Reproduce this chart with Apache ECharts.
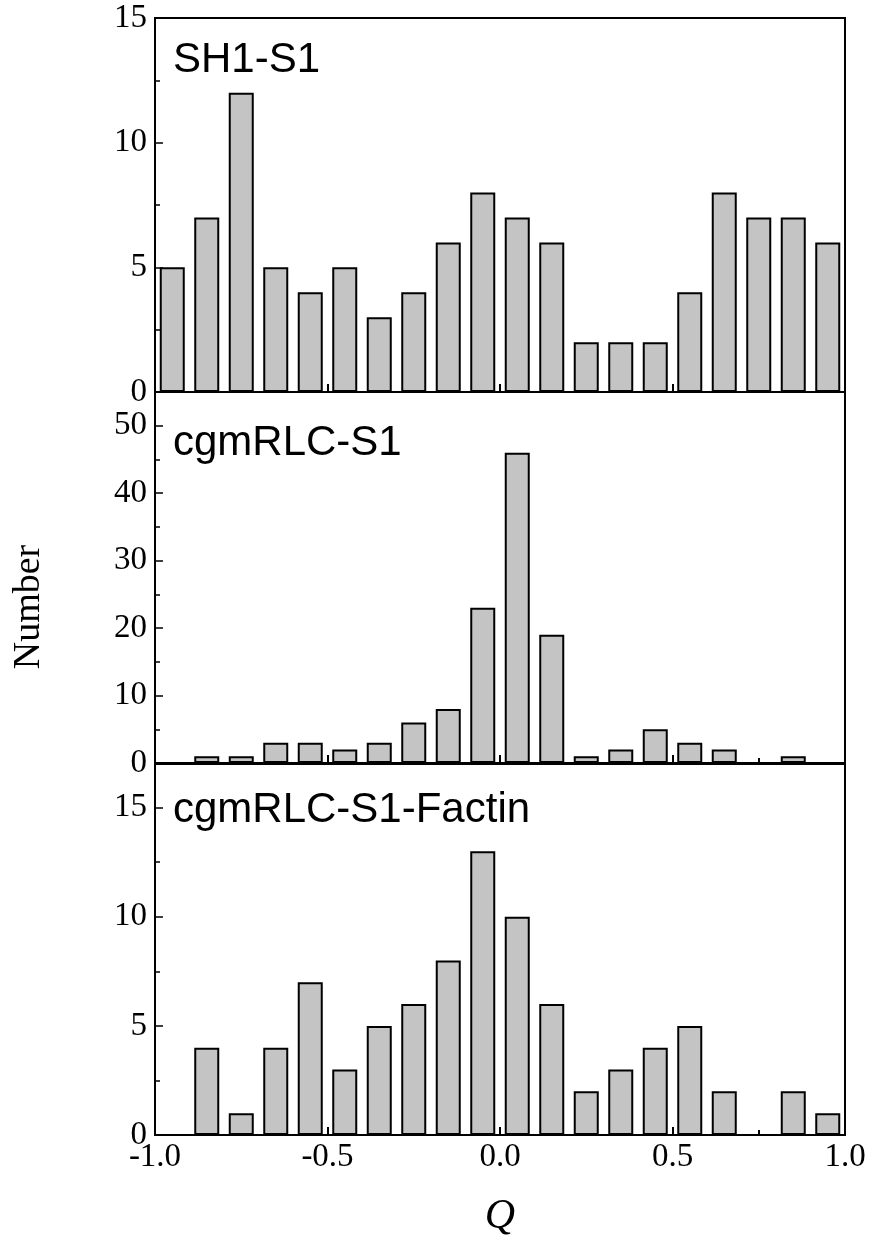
<!DOCTYPE html>
<html>
<head>
<meta charset="utf-8">
<script src="https://cdn.jsdelivr.net/npm/echarts@6/dist/echarts.min.js"></script>
<style>
  html, body { margin: 0; padding: 0; background: #fff; }
  #chart { width: 872px; height: 1241px; }
</style>
</head>
<body>
<div id="chart"></div>
<script>
// bin centres of Q (width 0.1)
const binCenters = [-0.95, -0.85, -0.75, -0.65, -0.55, -0.45, -0.35, -0.25, -0.15, -0.05,
                    0.05, 0.15, 0.25, 0.35, 0.45, 0.55, 0.65, 0.75, 0.85, 0.95];
const panelNames = ["SH1-S1", "cgmRLC-S1", "cgmRLC-S1-Factin"];
const sh1S1 = [5, 7, 12, 5, 4, 5, 3, 4, 6, 8, 7, 6, 2, 2, 2, 4, 8, 7, 7, 6];
const cgmRLCS1 = [0, 1, 1, 3, 3, 2, 3, 6, 8, 23, 46, 19, 1, 2, 5, 3, 2, 0, 1, 0];
const cgmRLCS1Factin = [0, 4, 1, 4, 7, 3, 5, 6, 8, 13, 10, 6, 2, 3, 4, 5, 2, 0, 2, 1];
const yMax = [15, 55, 17];
const yInterval = [5, 10, 5];

const font = "'Liberation Serif', 'Times New Roman', serif";
const panels = [sh1S1, cgmRLCS1, cgmRLCS1Factin];
const grids = [
  { left: 155, right: 27, top: 18, height: 374 },
  { left: 155, right: 27, top: 392, height: 371 },
  { left: 155, right: 27, top: 764, height: 371 }
];

let myChart = echarts.init(document.getElementById("chart"));

let option = {
  animation: false,
  backgroundColor: "#fff",
  title: panelNames.map((name, i) => ({
    text: name,
    left: 168,
    top: [34, 417, 784][i],
    textStyle: {
      fontFamily: "'Liberation Sans', Arial, sans-serif",
      fontWeight: "normal",
      fontSize: 42,
      color: "#000"
    }
  })),
  grid: grids.map(g => ({ ...g, show: true, borderColor: "#000", borderWidth: 2 })),
  xAxis: grids.map((g, i) => ({
    type: "value",
    gridIndex: i,
    min: -1,
    max: 1,
    interval: 0.5,
    axisLine: { onZero: false, lineStyle: { color: "#000", width: 2 } },
    axisTick: { inside: true, length: 8, lineStyle: { color: "#000", width: 2 } },
    minorTick: { show: true, splitNumber: 2, length: 5, lineStyle: { color: "#000", width: 2 } },
    splitLine: { show: false },
    axisLabel: {
      show: i === 2,
      color: "#000",
      fontFamily: font,
      fontSize: 33,
      margin: 6,
      formatter: v => v.toFixed(1)
    }
  })),
  yAxis: grids.map((g, i) => ({
    type: "value",
    gridIndex: i,
    min: 0,
    max: yMax[i],
    interval: yInterval[i],
    axisLine: { onZero: false, lineStyle: { color: "#000", width: 2 } },
    axisTick: { inside: true, length: 8, lineStyle: { color: "#000", width: 1.5 } },
    minorTick: { show: true, splitNumber: 2, length: 5, lineStyle: { color: "#000", width: 1.5 } },
    splitLine: { show: false },
    axisLabel: {
      color: "#000",
      fontFamily: font,
      fontSize: 33,
      margin: 8,
      showMaxLabel: i === 0
    }
  })),
  graphic: [
    {
      type: "text",
      x: 29,
      y: 607,
      rotation: Math.PI / 2,
      style: {
        text: "Number",
        fontFamily: font,
        fontSize: 38,
        fill: "#000",
        align: "center",
        verticalAlign: "middle"
      }
    },
    {
      type: "text",
      x: 500,
      y: 1217,
      style: {
        text: "Q",
        fontFamily: font,
        fontStyle: "italic",
        fontSize: 42,
        fill: "#000",
        align: "center",
        verticalAlign: "middle"
      }
    }
  ],
  series: panels.map((vals, i) => ({
    type: "bar",
    xAxisIndex: i,
    yAxisIndex: i,
    barWidth: 25,
    data: binCenters.map((x, k) => [x, vals[k]]),
    itemStyle: {
      color: "#c4c4c4",
      borderColor: "#000",
      borderWidth: 2
    }
  }))
};

myChart.setOption(option);
</script>
</body>
</html>
